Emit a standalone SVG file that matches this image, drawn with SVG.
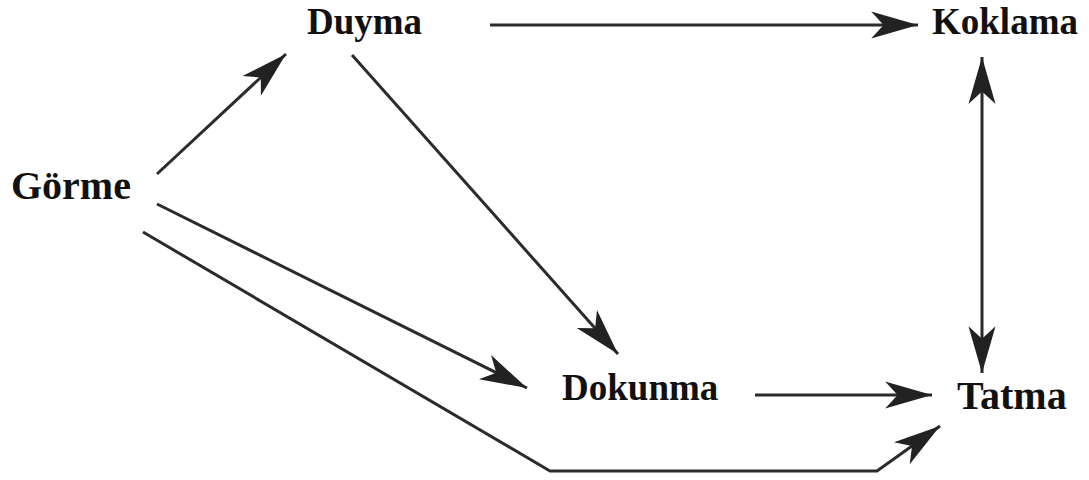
<svg xmlns="http://www.w3.org/2000/svg" width="1089" height="480" viewBox="0 0 1089 480">
  <style>
    .label { font-family: "Liberation Serif", "Times New Roman", serif; font-weight: bold; font-size: 37px; fill: #111; }
    .big { font-size: 40px; }
    .edge { fill: none; stroke: #2b2b2b; stroke-width: 3; stroke-linejoin: miter; }
  </style>
  <defs>
    <!-- barbed arrowhead, drawn in user units so every connector gets the same size -->
    <marker id="head" markerUnits="userSpaceOnUse" markerWidth="50" markerHeight="32" viewBox="-46 -15 48 30" refX="0" refY="0" orient="auto-start-reverse">
      <path d="M0,0 L-45,-13 L-33,0 L-45,13 Z" fill="#222"/>
    </marker>
  </defs>
  <rect width="1089" height="480" fill="#fff"/>

  <g id="connectors">
    <line class="edge" x1="157" y1="174" x2="286" y2="54" marker-end="url(#head)"/>
    <line class="edge" x1="490" y1="25" x2="918" y2="25" marker-end="url(#head)"/>
    <line class="edge" x1="982" y1="57" x2="982" y2="373" marker-start="url(#head)" marker-end="url(#head)"/>
    <line class="edge" x1="755" y1="395" x2="932" y2="395" marker-end="url(#head)"/>
    <line class="edge" x1="352" y1="55" x2="618" y2="354" marker-end="url(#head)"/>
    <line class="edge" x1="157" y1="204" x2="527" y2="388" marker-end="url(#head)"/>
    <polyline class="edge" points="143,232 550,471 877,471 940,426" marker-end="url(#head)"/>
  </g>

  <g id="node-gorme"><text class="label big" x="11" y="199">Görme</text></g>
  <g id="node-duyma"><text class="label" x="307" y="34">Duyma</text></g>
  <g id="node-koklama"><text class="label" x="932" y="34">Koklama</text></g>
  <g id="node-dokunma"><text class="label" x="562" y="400">Dokunma</text></g>
  <g id="node-tatma"><text class="label big" x="957" y="409">Tatma</text></g>
</svg>
